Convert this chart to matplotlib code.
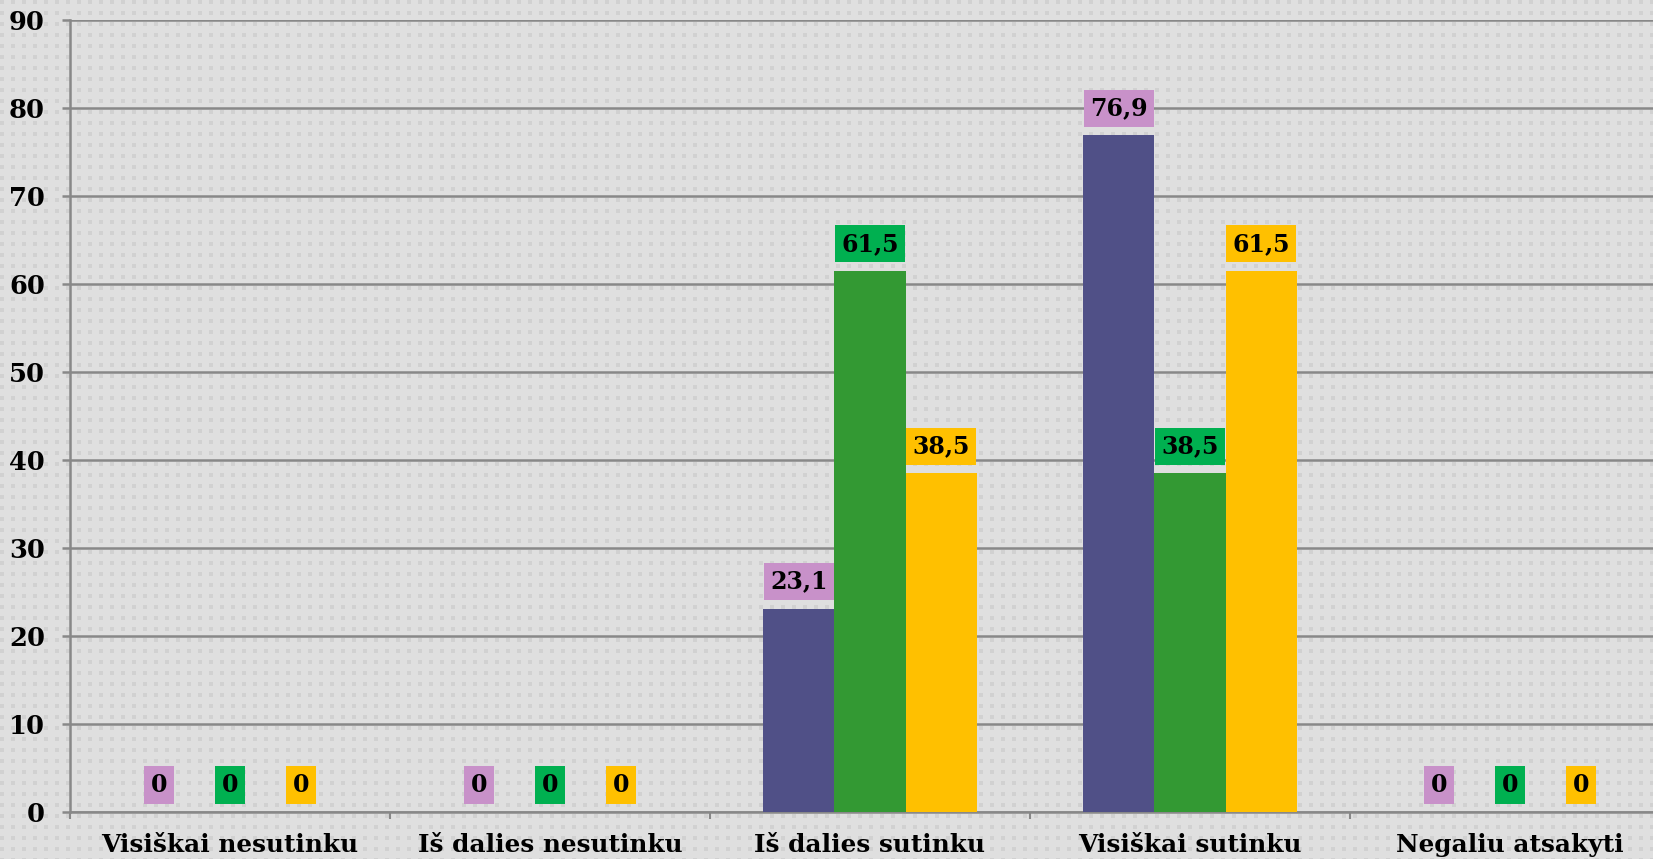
import numpy as np
import matplotlib
matplotlib.use("Agg")
import matplotlib.pyplot as plt

# duomenys
categories = ["Visiškai nesutinku", "Iš dalies nesutinku", "Iš dalies sutinku",
              "Visiškai sutinku", "Negaliu atsakyti"]
series_a = [0, 0, 23.1, 76.9, 0]
series_b = [0, 0, 61.5, 38.5, 0]
series_c = [0, 0, 38.5, 61.5, 0]
y_ticks = [0, 10, 20, 30, 40, 50, 60, 70, 80, 90]

bar_colors = ["#505087", "#339933", "#FFC000"]
label_colors = ["#C891C9", "#00B050", "#FFC000"]

plt.rcParams['font.family'] = ['DejaVu Serif']
plt.rcParams['font.weight'] = 'bold'

W, H = 1653, 859
fig = plt.figure(figsize=(W / 100, H / 100), dpi=100)

# taškuotas fonas
bg = np.full((H, W, 3), 0.875)
yy, xx = np.mgrid[0:H, 0:W]
dots = ((xx % 11) < 4) & ((yy % 11) < 4)
bg[dots] = 0.82
fig.figimage(bg, xo=0, yo=0, zorder=-10)

ax = fig.add_axes([70 / W, 47 / H, 1600 / W, 792 / H])
ax.set_zorder(5)
ax.set_facecolor("none")

x = np.arange(len(categories))
bw = 0.222
all_series = [series_a, series_b, series_c]
for i, vals in enumerate(all_series):
    pos = x + (i - 1) * bw
    ax.bar(pos, vals, width=bw, color=bar_colors[i], zorder=3)
    for px, v in zip(pos, vals):
        txt = "0" if v == 0 else f"{v:.1f}".replace(".", ",")
        ax.annotate(txt, (px, v), xytext=(0, 19.5), textcoords="offset points",
                    ha="center", va="center", fontsize=17, fontweight="bold",
                    color="black", zorder=5,
                    bbox=dict(boxstyle="square,pad=0.28", fc=label_colors[i], ec="none"))

ax.set_xlim(-0.5, 4.5)
ax.set_ylim(0, 90)
ax.set_yticks(y_ticks)
ax.set_yticklabels([str(t) for t in y_ticks], fontsize=18.5, fontweight="bold")
ax.yaxis.grid(True, color="#888888", linewidth=1.8, zorder=1)
ax.set_axisbelow(True)

# kategorijų pavadinimai ir žymos tarp kategorijų
ax.set_xticks(x)
ax.set_xticklabels(categories, fontsize=17.8, fontweight="bold")
ax.tick_params(axis="x", length=0, pad=15)
ax.set_xticks(np.arange(-0.5, 5, 1), minor=True)
ax.tick_params(axis="x", which="minor", length=5, color="#888888", width=1.5)
ax.tick_params(axis="y", length=6, color="#888888", width=1.8, pad=12)

for s in ["top", "right"]:
    ax.spines[s].set_visible(False)
for s in ["left", "bottom"]:
    ax.spines[s].set_color("#888888")
    ax.spines[s].set_linewidth(1.8)

fig.savefig("out.png", dpi=100)
